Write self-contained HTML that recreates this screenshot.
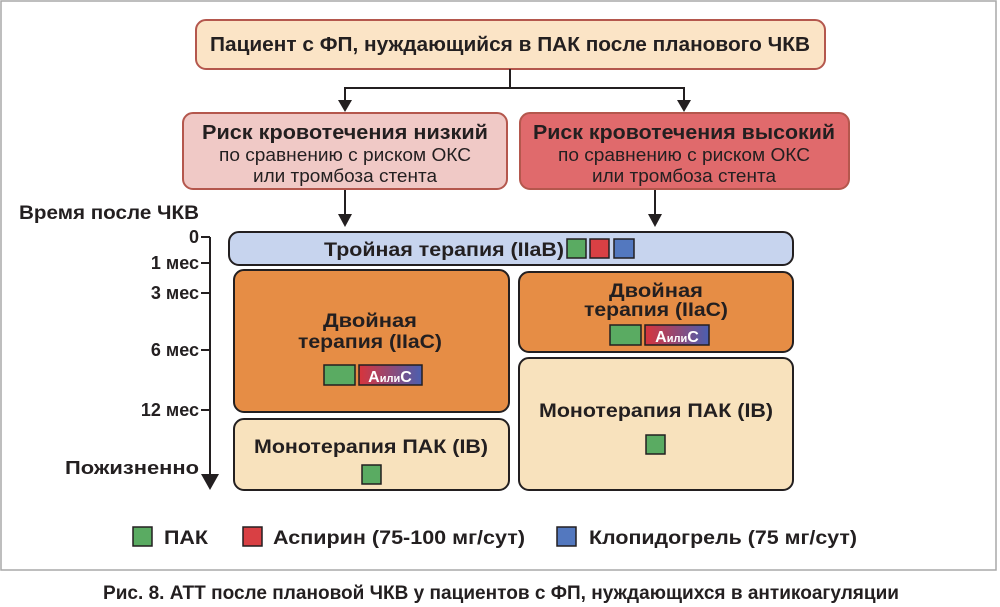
<!DOCTYPE html>
<html><head><meta charset="utf-8"><style>
html,body{margin:0;padding:0;background:#fff}
svg{display:block}
text{font-family:"Liberation Sans",sans-serif;fill:#231f20}
.b{font-weight:bold}
</style></head><body>
<svg width="1000" height="607" viewBox="0 0 1000 607" xmlns="http://www.w3.org/2000/svg">
<defs>
<linearGradient id="ac" x1="0" x2="1"><stop offset="0" stop-color="#d8343c"/><stop offset="1" stop-color="#4a5fb0"/></linearGradient>
</defs>
<rect x="1" y="1" width="995" height="569" fill="#fff" stroke="#a8a8a8" stroke-width="1.5"/>
<rect x="196" y="20" width="629" height="49" rx="10" fill="#fbe4c6" stroke="#b4574d" stroke-width="2"/>
<text x="510" y="51" class="b" font-size="20" text-anchor="middle" textLength="600" lengthAdjust="spacingAndGlyphs">Пациент с ФП, нуждающийся в ПАК после планового ЧКВ</text>
<g stroke="#231f20" stroke-width="2" fill="none">
<path d="M510 69V88H345V104M345 88H684V104"/>
<path d="M345 189V218M655 189V218"/>
<path d="M210 237V478"/>
<path d="M201 237H210M201 263H210M201 293H210M201 350H210M201 410H210"/>
</g>
<g fill="#231f20">
<path d="M338 100L352 100L345 112Z"/><path d="M677 100L691 100L684 112Z"/>
<path d="M338 214L352 214L345 227Z"/><path d="M648 214L662 214L655 227Z"/>
<path d="M201 474L219 474L210 490Z"/>
</g>
<rect x="183" y="113" width="324" height="76" rx="10" fill="#f0c9c6" stroke="#b4574d" stroke-width="2"/>
<text x="345" y="139" class="b" font-size="20" text-anchor="middle" textLength="286" lengthAdjust="spacingAndGlyphs">Риск кровотечения низкий</text>
<text x="345" y="161" font-size="18" text-anchor="middle" textLength="252" lengthAdjust="spacingAndGlyphs">по сравнению с риском ОКС</text>
<text x="345" y="182" font-size="18" text-anchor="middle" textLength="184" lengthAdjust="spacingAndGlyphs">или тромбоза стента</text>
<rect x="520" y="113" width="329" height="76" rx="10" fill="#e06a6c" stroke="#b4574d" stroke-width="2"/>
<text x="684" y="139" class="b" font-size="20" text-anchor="middle" textLength="302" lengthAdjust="spacingAndGlyphs">Риск кровотечения высокий</text>
<text x="684" y="161" font-size="18" text-anchor="middle" textLength="252" lengthAdjust="spacingAndGlyphs">по сравнению с риском ОКС</text>
<text x="684" y="182" font-size="18" text-anchor="middle" textLength="184" lengthAdjust="spacingAndGlyphs">или тромбоза стента</text>
<text x="19" y="219" class="b" font-size="19" textLength="180" lengthAdjust="spacingAndGlyphs">Время после ЧКВ</text>
<g font-size="18" font-weight="bold" text-anchor="end">
<text x="199" y="243">0</text>
<text x="199" y="269">1 мес</text>
<text x="199" y="299">3 мес</text>
<text x="199" y="356">6 мес</text>
<text x="199" y="416">12 мес</text>
<text x="199" y="474" textLength="134" lengthAdjust="spacingAndGlyphs">Пожизненно</text>
</g>
<rect x="229" y="232" width="564" height="33" rx="10" fill="#c7d4ee" stroke="#231f20" stroke-width="2"/>
<text x="444" y="256" class="b" font-size="19" text-anchor="middle" textLength="240" lengthAdjust="spacingAndGlyphs">Тройная терапия (IIaB)</text>
<rect x="567" y="239" width="19" height="19" fill="#5aab62" stroke="#231f20" stroke-width="1.5"/>
<rect x="590" y="239" width="19" height="19" fill="#d94044" stroke="#231f20" stroke-width="1.5"/>
<rect x="614" y="239" width="20" height="19" fill="#5378bf" stroke="#231f20" stroke-width="1.5"/>
<rect x="234" y="270" width="275" height="142" rx="10" fill="#e68d45" stroke="#231f20" stroke-width="2"/>
<text x="370" y="327" class="b" font-size="19" text-anchor="middle" textLength="94" lengthAdjust="spacingAndGlyphs">Двойная</text>
<text x="370" y="348" class="b" font-size="19" text-anchor="middle" textLength="144" lengthAdjust="spacingAndGlyphs">терапия (IIaC)</text>
<rect x="324" y="365" width="31" height="20" fill="#5aab62" stroke="#231f20" stroke-width="1.5"/>
<rect x="359" y="365" width="63" height="20" fill="url(#ac)" stroke="#231f20" stroke-width="1.5"/>
<text x="390" y="382" class="b" font-size="16" text-anchor="middle" style="fill:#fff">A<tspan font-size="11">или</tspan>C</text>
<rect x="234" y="419" width="275" height="71" rx="10" fill="#f8e2bd" stroke="#231f20" stroke-width="2"/>
<text x="371" y="453" class="b" font-size="19" text-anchor="middle" textLength="234" lengthAdjust="spacingAndGlyphs">Монотерапия ПАК (IB)</text>
<rect x="362" y="465" width="19" height="19" fill="#5aab62" stroke="#231f20" stroke-width="1.5"/>
<rect x="519" y="272" width="274" height="80" rx="10" fill="#e68d45" stroke="#231f20" stroke-width="2"/>
<text x="656" y="297" class="b" font-size="19" text-anchor="middle" textLength="94" lengthAdjust="spacingAndGlyphs">Двойная</text>
<text x="656" y="316" class="b" font-size="19" text-anchor="middle" textLength="144" lengthAdjust="spacingAndGlyphs">терапия (IIaC)</text>
<rect x="610" y="325" width="31" height="20" fill="#5aab62" stroke="#231f20" stroke-width="1.5"/>
<rect x="645" y="325" width="64" height="20" fill="url(#ac)" stroke="#231f20" stroke-width="1.5"/>
<text x="677" y="342" class="b" font-size="16" text-anchor="middle" style="fill:#fff">A<tspan font-size="11">или</tspan>C</text>
<rect x="519" y="358" width="274" height="132" rx="10" fill="#f8e2bd" stroke="#231f20" stroke-width="2"/>
<text x="656" y="417" class="b" font-size="19" text-anchor="middle" textLength="234" lengthAdjust="spacingAndGlyphs">Монотерапия ПАК (IB)</text>
<rect x="646" y="435" width="19" height="19" fill="#5aab62" stroke="#231f20" stroke-width="1.5"/>
<rect x="133" y="527" width="19" height="19" fill="#5aab62" stroke="#231f20" stroke-width="1.5"/>
<text x="164" y="544" class="b" font-size="19" textLength="44" lengthAdjust="spacingAndGlyphs">ПАК</text>
<rect x="243" y="527" width="19" height="19" fill="#d94044" stroke="#231f20" stroke-width="1.5"/>
<text x="273" y="544" class="b" font-size="19" textLength="252" lengthAdjust="spacingAndGlyphs">Аспирин (75-100 мг/сут)</text>
<rect x="557" y="527" width="19" height="19" fill="#5378bf" stroke="#231f20" stroke-width="1.5"/>
<text x="589" y="544" class="b" font-size="19" textLength="268" lengthAdjust="spacingAndGlyphs">Клопидогрель (75 мг/сут)</text>
<text x="501" y="599" class="b" font-size="19" text-anchor="middle" textLength="796" lengthAdjust="spacingAndGlyphs">Рис. 8. АТТ после плановой ЧКВ у пациентов с ФП, нуждающихся в антикоагуляции</text>
</svg>
</body></html>
